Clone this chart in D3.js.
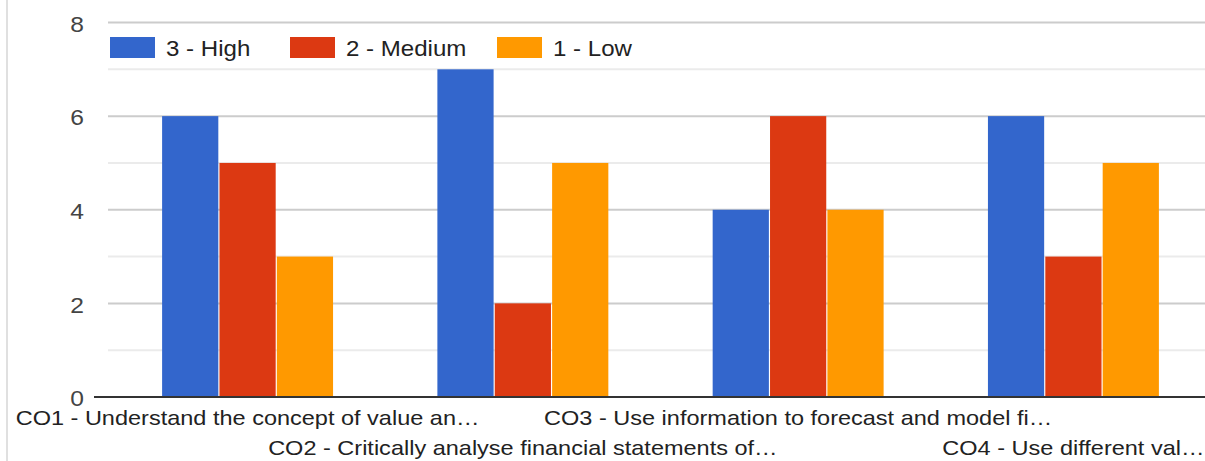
<!DOCTYPE html>
<html><head><meta charset="utf-8">
<script src="https://cdn.jsdelivr.net/npm/d3@7"></script>
<style>body{margin:0;background:#fff}svg{display:block}</style>
</head><body><svg id="c" width="1205" height="461"></svg>
<script>
const categories = ["CO1 - Understand the concept of value an…","CO2 - Critically analyse financial statements of…","CO3 - Use information to forecast and model fi…","CO4 - Use different val…"];
const seriesNames = ["3 - High","2 - Medium","1 - Low"];
const high = [6,7,4,6];
const medium = [5,2,6,3];
const low = [3,5,4,5];
const colors = ["#3366cc","#dc3912","#ff9900"];
const yTicks = [0,2,4,6,8];
const minorTicks = [1,3,5,7];

(function(){
const svg = d3.select("#c");
const FONT = "'Liberation Sans', Arial, sans-serif";
const SX = 1.12;
const pl = 109.8, pr = 1211.2, pt = 22.5, pb = 397, gridLeft = 108;
const x = d3.scaleBand().domain(categories).range([pl, pr]).paddingInner(0.379).paddingOuter(0.19);
const xs = d3.scaleBand().domain(seriesNames).range([0, x.bandwidth()]).paddingInner(0.02);
const y = d3.scaleLinear().domain([0,8]).range([pb, pt]);

svg.append("line").attr("x1",7).attr("x2",7).attr("y1",0).attr("y2",461).attr("stroke","#e0e0e0").attr("stroke-width",2);

svg.append("g").selectAll("line").data(minorTicks).join("line")
  .attr("x1",gridLeft).attr("x2",1205).attr("y1",d=>y(d)).attr("y2",d=>y(d))
  .attr("stroke","#ebebeb").attr("stroke-width",2);
svg.append("g").selectAll("line").data(yTicks.filter(d=>d>0)).join("line")
  .attr("x1",gridLeft).attr("x2",1205).attr("y1",d=>y(d)).attr("y2",d=>y(d))
  .attr("stroke","#cccccc").attr("stroke-width",2);

const yAxis = d3.axisLeft(y).tickValues(yTicks).tickSize(0).tickPadding(24);
const ya = svg.append("g").attr("transform",`translate(${gridLeft},0)`).call(yAxis);
ya.select(".domain").remove();
ya.selectAll("text").attr("font-family",FONT).attr("font-size",22).attr("fill","#444")
  .attr("x",-24/SX).attr("dy","0.4em").attr("transform",`scale(${SX},1)`);

const data = categories.map((c,i)=>({c, vals:[high[i],medium[i],low[i]]}));
const g = svg.append("g");
data.forEach(d=>{
  g.selectAll(null).data(d.vals.map((v,j)=>({v,s:seriesNames[j],j}))).join("rect")
    .attr("x",e=>x(d.c)+xs(e.s)).attr("width",xs.bandwidth())
    .attr("y",e=>y(e.v)).attr("height",e=>y(0)-y(e.v))
    .attr("fill",e=>colors[e.j]);
});

svg.append("line").attr("x1",gridLeft-14).attr("x2",1205).attr("y1",y(0)).attr("y2",y(0)).attr("stroke","#333").attr("stroke-width",2);

const xAxis = d3.axisBottom(x).tickSize(0);
const xa = svg.append("g").attr("transform",`translate(0,${pb})`).call(xAxis);
xa.select(".domain").remove();
xa.selectAll("text").attr("font-family",FONT).attr("font-size",21).attr("fill","#222")
  .attr("y",(d,i)=> i%2===0 ? 28 : 58).attr("dy",0).attr("transform",`scale(${SX},1)`);

const legendX = [110,290,497];
const lg = svg.append("g");
seriesNames.forEach((s,i)=>{
  lg.append("rect").attr("x",legendX[i]).attr("y",37).attr("width",45).attr("height",21).attr("fill",colors[i]);
  lg.append("text").attr("transform",`translate(${legendX[i]+56},56) scale(${SX},1)`)
    .attr("font-family",FONT).attr("font-size",21.5).attr("fill","#222").text(s);
});
})();
</script></body></html>
